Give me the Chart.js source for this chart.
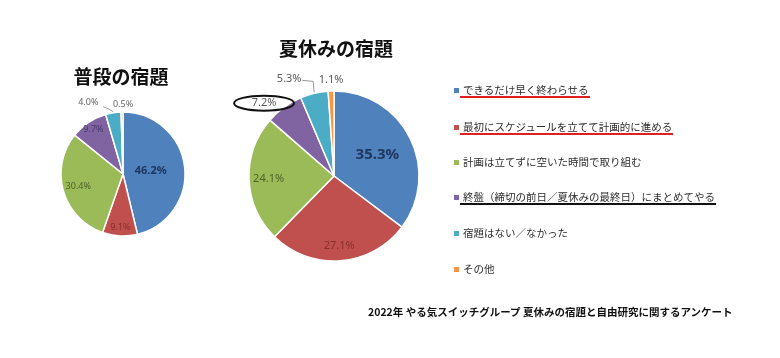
<!DOCTYPE html>
<html><head><meta charset="utf-8">
<script src="https://cdn.jsdelivr.net/npm/chart.js@4/dist/chart.umd.min.js"></script>
<style>
html,body{margin:0;padding:0;background:#fff;}
#wrap{position:relative;width:780px;height:358px;overflow:hidden;font-family:"Noto Sans CJK JP","Noto Sans",sans-serif;}
canvas{position:absolute;left:0;top:0;}
.title{position:absolute;font-weight:bold;font-size:19px;color:#111;white-space:nowrap;transform:translate(-50%,-50%);}
.leg{position:absolute;left:454px;font-size:10.5px;color:#2e2e2e;white-space:nowrap;}
.leg i{display:inline-block;width:5px;height:5px;margin-right:4px;vertical-align:middle;position:relative;top:-1px;}
.ul{position:absolute;height:2px;}
#foot{position:absolute;left:368px;top:304px;font-size:10.5px;font-weight:bold;color:#111;white-space:nowrap;}
</style></head>
<body><div id="wrap">
<canvas id="c1" width="780" height="358"></canvas>
<canvas id="c2" width="780" height="358"></canvas>
<div class="title" style="left:121px;top:75px">普段の宿題</div>
<div class="title" style="left:336px;top:47px">夏休みの宿題</div>
<div id="legend"></div>
<div id="foot">2022年 やる気スイッチグループ 夏休みの宿題と自由研究に関するアンケート</div>
</div>
<script>
const categories = ["できるだけ早く終わらせる","最初にスケジュールを立てて計画的に進める","計画は立てずに空いた時間で取り組む","終盤（締切の前日／夏休みの最終日）にまとめてやる","宿題はない／なかった","その他"];
const usualValues = [46.2, 9.1, 30.4, 9.7, 4.0, 0.5];
const summerValues = [35.3, 27.1, 24.1, 7.2, 5.3, 1.1];
const colors = ["#4F81BD","#C0504D","#9BBB59","#8064A2","#4BACC6","#F79646"];
const labelColors = ["#1F3760","#8B2E2B","#4F6228","#4A3A6B","#595959","#595959"];
const underlineColors = ["#e02020","#e02020",null,"#111",null,null];

// legend
const legY = [90,127,162,197,233,269];
const legend = document.getElementById('legend');
const wrap = document.getElementById('wrap');
categories.forEach((c,i)=>{
  const d=document.createElement('div');d.className='leg';
  d.style.top=(legY[i]-8)+'px';
  d.innerHTML='<i style="background:'+colors[i]+'"></i><span>'+c+'</span>';
  legend.appendChild(d);
  if(underlineColors[i]){
    const s=d.querySelector('span');
    const u=document.createElement('div');u.className='ul';
    u.style.left=(454+s.offsetLeft-3)+'px';
    u.style.width=(s.offsetWidth+4)+'px';
    u.style.top=(legY[i]+6)+'px';
    u.style.background=underlineColors[i];
    wrap.appendChild(u);
  }
});

const pieLabels = {
  id:'pieLabels',
  afterDatasetsDraw(chart, args, opts){
    const ctx=chart.ctx;
    const meta=chart.getDatasetMeta(0);
    const vals=chart.data.datasets[0].data;
    meta.data.forEach((arc,i)=>{
      const spec=opts.specs[i];
      const mid=(arc.startAngle+arc.endAngle)/2;
      const R=arc.outerRadius;
      let x,y;
      ctx.save();
      if(spec.r!==undefined){
        x=arc.x+Math.cos(mid)*R*spec.r; y=arc.y+Math.sin(mid)*R*spec.r;
      } else {
        const ex=arc.x+Math.cos(mid)*R, ey=arc.y+Math.sin(mid)*R;
        x=ex+spec.dx; y=ey+spec.dy;
        if(spec.leader){
          ctx.strokeStyle='#999';ctx.lineWidth=1;ctx.beginPath();
          ctx.moveTo(ex, ey-1);
          spec.leader.forEach(p=>ctx.lineTo(ex+p[0],ey+p[1]));
          ctx.stroke();
        }
        if(spec.ellipse){
          ctx.strokeStyle='#111';ctx.lineWidth=2;ctx.beginPath();
          ctx.ellipse(x,y,spec.ellipse[0],spec.ellipse[1],0,0,Math.PI*2);ctx.stroke();
        }
      }
      ctx.font=(spec.bold?'bold ':'')+spec.size+'px "Noto Sans","DejaVu Sans",sans-serif';
      ctx.fillStyle=spec.color||labelColors[i];
      ctx.textAlign='center';ctx.textBaseline='middle';
      ctx.fillText(vals[i].toFixed(1)+'%',x,y);
      ctx.restore();
    });
  }
};

function makePie(id, values, radius, padding, specs){
  return new Chart(document.getElementById(id),{
    type:'pie',
    data:{labels:categories,datasets:[{data:values,backgroundColor:colors,borderColor:'#fff',borderWidth:1.5,radius:radius,hoverOffset:0}]},
    options:{responsive:false,animation:false,devicePixelRatio:1,
      layout:{padding:padding},
      events:[],
      plugins:{legend:{display:false},tooltip:{enabled:false},pieLabels:{specs:specs}}},
    plugins:[pieLabels]
  });
}

makePie('c1', usualValues, 62, {left:0,right:534,top:0,bottom:10}, [
  {r:0.45,size:11,bold:true},
  {r:0.86,size:9},
  {r:0.75,size:9},
  {r:0.86,size:9},
  {dx:-25,dy:-10,size:9,color:'#666',leader:[[-5,-4],[-10,-6]]},
  {dx:1,dy:-8,size:9,color:'#666'}
]);
makePie('c2', summerValues, 85, {left:0,right:112,top:0,bottom:6}, [
  {r:0.57,size:15,bold:true},
  {r:0.82,size:11},
  {r:0.77,size:11},
  {dx:-20,dy:-4,size:11,color:'#595959',ellipse:[30,7.5]},
  {dx:-25,dy:-14,size:11,color:'#595959',leader:[[-1,-12],[-12,-13]]},
  {dx:0,dy:-11,size:11,color:'#595959'}
]);
</script>
</body></html>
